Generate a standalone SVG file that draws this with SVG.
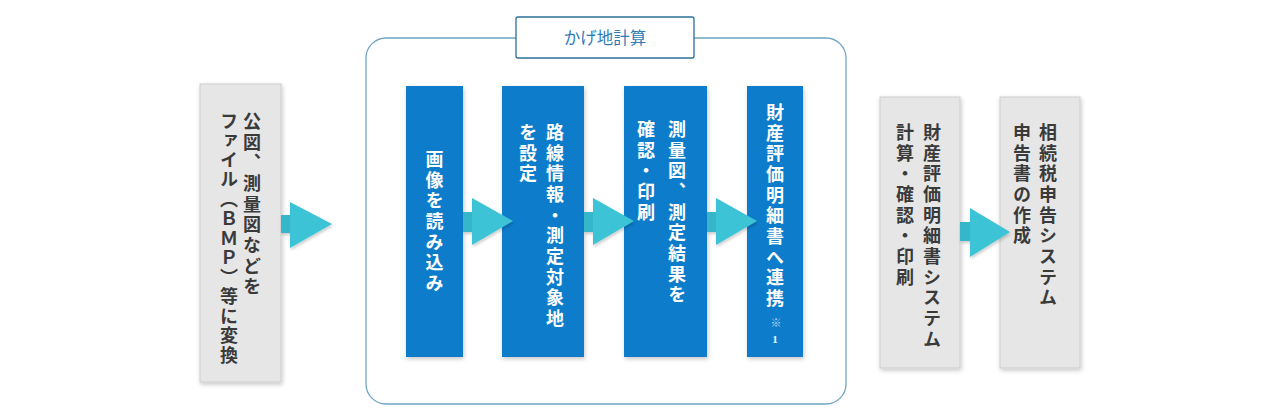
<svg xmlns="http://www.w3.org/2000/svg" width="1280" height="420" viewBox="0 0 1280 420">
<defs>
<filter id="sh" x="-20%" y="-10%" width="140%" height="130%">
<feDropShadow dx="1" dy="2" stdDeviation="2" flood-color="#000" flood-opacity="0.22"/>
</filter>
<filter id="ash" x="-30%" y="-30%" width="160%" height="160%">
<feDropShadow dx="1" dy="2" stdDeviation="1.5" flood-color="#000" flood-opacity="0.2"/>
</filter>
</defs>
<style>
.gray{fill:#e6e6e6;stroke:#cdcdcd;stroke-width:1}
.blue{fill:#0b7dcb}
.vt{writing-mode:vertical-rl;font-family:"Noto Sans CJK JP","Noto Sans CJK SC",sans-serif;font-weight:700;font-size:18px;letter-spacing:2.7px}
.tight{letter-spacing:1.5px}
.dk{fill:#3a3a3a}
.wh{fill:#ffffff}
.shaft{fill:#35b6ca}
.tri{fill:#3cc3d6}
.frame{fill:none;stroke:#6ea5c5;stroke-width:1.3}
.title{fill:#ffffff;stroke:#2d6f99;stroke-width:1.3}
.tt{font-family:"Noto Sans CJK JP","Noto Sans CJK SC",sans-serif;font-size:16.5px;fill:#2e7bb6;text-anchor:middle}
.note{writing-mode:vertical-rl;text-orientation:upright;font-family:"Liberation Serif","Noto Sans CJK JP",serif;font-weight:700;font-size:11px}
</style>
<rect width="1280" height="420" fill="#ffffff"/>

<g id="kagechi-frame">
<rect class="frame" x="366" y="38" width="480" height="366" rx="20" ry="20"/>
<rect class="title" x="516" y="17" width="178" height="41" rx="2"/>
<text class="tt" x="605" y="43.5">かげ地計算</text>
</g>

<g id="node-convert">
<rect class="gray" x="200" y="84" width="81" height="298" filter="url(#sh)"/>
<text class="vt dk" x="252" y="112">公図、測量図などを</text>
<text class="vt dk tight" x="229" y="112">ファイル（ＢＭＰ）等に変換</text>
</g>

<g id="node-read">
<rect class="blue" x="406" y="86" width="57" height="271" filter="url(#sh)"/>
<text class="vt wh" x="434.5" y="150">画像を読み込み</text>
</g>

<g id="node-route">
<rect class="blue" x="502" y="86" width="82" height="271" filter="url(#sh)"/>
<text class="vt wh" x="555" y="123">路線情報・測定対象地</text>
<text class="vt wh" x="528" y="123">を設定</text>
</g>

<g id="node-check">
<rect class="blue" x="624" y="86" width="83" height="271" filter="url(#sh)"/>
<text class="vt wh" x="677" y="120">測量図、測定結果を</text>
<text class="vt wh" x="646" y="120">確認・印刷</text>
</g>

<g id="node-link">
<rect class="blue" x="747" y="86" width="56" height="271" filter="url(#sh)"/>
<text class="vt wh" x="775" y="103">財産評価明細書へ連携</text>
<text class="note" x="775" y="317" fill="#b9d9f0">※</text>
<text class="note wh" x="775" y="333">1</text>
</g>

<g id="node-zaisan">
<rect class="gray" x="880" y="97" width="80" height="271" filter="url(#sh)"/>
<text class="vt dk" x="932" y="123">財産評価明細書システム</text>
<text class="vt dk" x="905" y="123">計算・確認・印刷</text>
</g>

<g id="node-souzoku">
<rect class="gray" x="1000" y="97" width="80" height="271" filter="url(#sh)"/>
<text class="vt dk" x="1048" y="123">相続税申告システム</text>
<text class="vt dk" x="1022" y="123">申告書の作成</text>
</g>

<g id="connectors">
<g filter="url(#ash)">
<rect class="shaft" x="281" y="215" width="10" height="18"/>
<polygon class="tri" points="290,202 332,224 290,248"/>
</g>
<g filter="url(#ash)">
<rect class="shaft" x="463" y="212" width="10" height="20"/>
<polygon class="tri" points="472,198 513,221 472,245"/>
</g>
<g filter="url(#ash)">
<rect class="shaft" x="584" y="212" width="10" height="20"/>
<polygon class="tri" points="593,198 634,221 593,245"/>
</g>
<g filter="url(#ash)">
<rect class="shaft" x="707" y="212" width="10" height="20"/>
<polygon class="tri" points="716,198 757,221 716,245"/>
</g>
<g filter="url(#ash)">
<rect class="shaft" x="960" y="222" width="11" height="19"/>
<polygon class="tri" points="970,208 1010,232 970,257"/>
</g>
</g>
</svg>
